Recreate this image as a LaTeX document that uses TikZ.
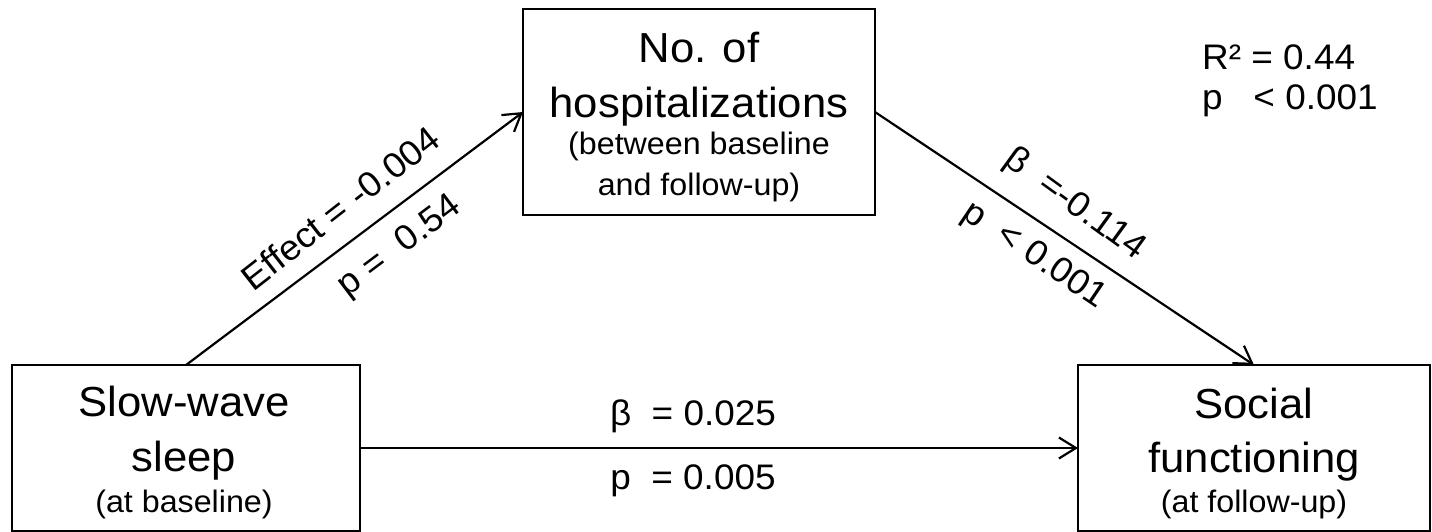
\documentclass[tikz,border=0pt]{standalone}
\usepackage{fontspec}
\setmainfont[FakeStretch=1.04]{Liberation Sans}
\usetikzlibrary{arrows.meta}
\begin{document}
\begin{tikzpicture}[x=1pt,y=-1pt,
  box/.style={draw, line width=2.6pt, inner sep=0pt, outer sep=0pt},
  conn/.style={line width=2.2pt, -{Straight Barb[length=17pt, width=21pt, line width=2.2pt]}},
  big/.style={font=\fontsize{42}{50}\selectfont, inner sep=0pt, anchor=base},
  small/.style={font=\fontsize{31}{37}\selectfont, inner sep=0pt, anchor=base},
  lab/.style={font=\fontsize{35.5}{42}\selectfont, inner sep=0pt}]
\useasboundingbox (0,0) rectangle (1432,531);
% boxes
\node[box, minimum width=352pt, minimum height=206pt] (hosp) at (699,112) {};
\node[box, minimum width=348pt, minimum height=166pt] (sws) at (186,448) {};
\node[box, minimum width=352pt, minimum height=166pt] (soc) at (1254,448) {};
% box texts
\node[big] (h1) at (699,62) {No. of};
\node[big] (h2) at (699,117) {hospitalizations};
\node[small] (h3) at (699,154) {(between baseline};
\node[small] (h4) at (699,195) {and follow-up)};
\node[big] (s1) at (184,416) {Slow-wave};
\node[big] (s2) at (184,471) {sleep};
\node[small] (s3) at (184,512) {(at baseline)};
\node[big] (f1) at (1254,418) {Social};
\node[big] (f2) at (1254,472) {functioning};
\node[small] (f3) at (1254,512) {(at follow-up)};
% connectors
\draw[conn] (sws.north) -- (hosp.west);
\draw[conn] (hosp.east) -- (soc.north);
\draw[conn] (sws.east) -- (soc.west);
% labels
\node[lab, rotate=38] (e1) at (340,208) {Effect = -0.004};
\node[lab, rotate=37] (e2) at (400,247) {p =\ \ 0.54};
\node[lab, rotate=-36] (b1) at (1075,205) {β\ \ =-0.114};
\node[lab, rotate=-34] (b2) at (1034,256) {p\ \ < 0.001};
\node[lab, anchor=base] (d1) at (693,425) {β\ \ = 0.025};
\node[lab, anchor=base] (d2) at (693,489) {p\ \ = 0.005};
\node[lab, anchor=base west] (r1) at (1202,69) {R² = 0.44};
\node[lab, anchor=base west] (r2) at (1202,109) {p\ \ \ < 0.001};
\end{tikzpicture}
\end{document}
